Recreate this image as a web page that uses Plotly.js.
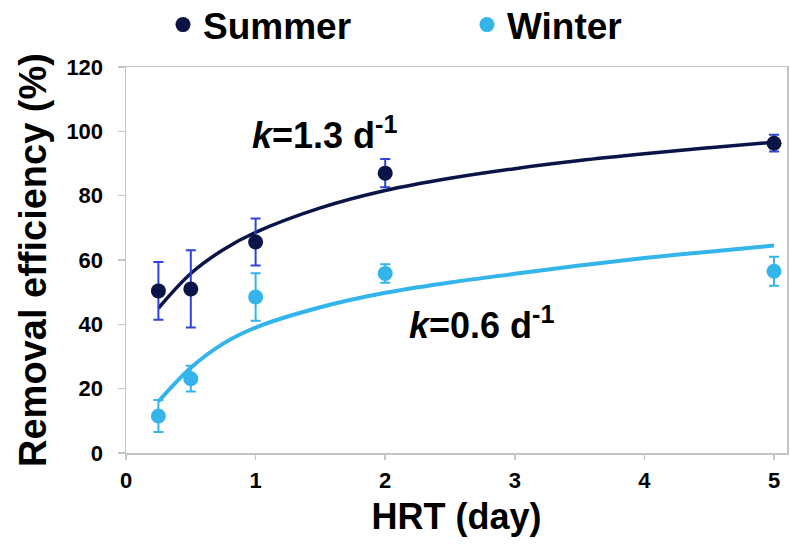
<!DOCTYPE html>
<html>
<head>
<meta charset="utf-8">
<script src="https://cdn.plot.ly/plotly-3.0.1.min.js"></script>
<style>html,body{margin:0;padding:0;background:#fff;}#chart{width:790px;height:545px;}</style>
</head>
<body>
<div id="chart"></div>
<script>
// Measured points (HRT in days, removal efficiency %)
const hrt = [0.25, 0.5, 1, 2, 5];
const summerMean = [50.4, 51.0, 65.6, 87.0, 96.3];
const summerErr = [9.0, 12.0, 7.3, 4.4, 2.6];
const winterMean = [11.5, 23.1, 48.5, 55.8, 56.5];
const winterErr = [5.0, 4.0, 7.4, 2.9, 4.5];

// Fitted curves
const fitHrt = [0.25, 0.5, 0.75, 1, 1.5, 2, 2.5, 3, 3.5, 4, 4.5, 5];
const summerFit = [45.0, 55.8, 63.2, 68.6, 76.2, 81.6, 85.4, 88.4, 90.9, 93.0, 94.9, 96.6];
const winterFit = [16.0, 26.5, 34.0, 39.0, 45.3, 49.8, 53.0, 55.7, 58.3, 60.6, 62.6, 64.5];

const seriesNames = ['Summer', 'Winter'];
const xTicks = [0, 1, 2, 3, 4, 5];
const yTicks = [0, 20, 40, 60, 80, 100, 120];

const navy = '#0B1446';
const sky = '#33B4EB';
const errBlue = '#2E43DD';
const font = 'Arial, "Liberation Sans", sans-serif';

const traces = [
  {x: fitHrt, y: summerFit, mode: 'lines', line: {color: navy, width: 3.5, shape: 'spline', smoothing: 1}, showlegend: false, hoverinfo: 'skip'},
  {x: fitHrt, y: winterFit, mode: 'lines', line: {color: sky, width: 4, shape: 'spline', smoothing: 1}, showlegend: false, hoverinfo: 'skip'},
  {x: hrt, y: summerMean, name: seriesNames[0], mode: 'markers',
   marker: {color: navy, size: 15},
   error_y: {type: 'data', array: summerErr, visible: true, color: errBlue, thickness: 2, width: 5}},
  {x: hrt, y: winterMean, name: seriesNames[1], mode: 'markers',
   marker: {color: sky, size: 15},
   error_y: {type: 'data', array: winterErr, visible: true, color: sky, thickness: 2, width: 5}}
];

const layout = {
  width: 790, height: 545,
  margin: {l: 126, r: 3, t: 67, b: 92},
  paper_bgcolor: '#fff', plot_bgcolor: '#fff',
  font: {family: font, color: '#000'},
  showlegend: true,
  legend: {orientation: 'h', xref: 'container', yref: 'container', x: 0.2063, y: 0.954, xanchor: 'left', yanchor: 'middle',
           font: {size: 37, family: font, weight: 'bold', color: '#000'}, entrywidth: 259, entrywidthmode: 'pixels',
           bgcolor: 'rgba(0,0,0,0)', traceorder: 'normal'},
  xaxis: {range: [0, 5.1], tickvals: xTicks, ticktext: xTicks.map(String), showgrid: false, zeroline: false,
          showline: true, mirror: true, linecolor: '#C4C4C4', linewidth: 1.5,
          ticks: 'outside', ticklen: 5, tickcolor: '#C4C4C4', tickwidth: 1.5,
          tickfont: {size: 22, family: font, weight: 'bold', color: '#000'}, ticklabelstandoff: 2,
          title: {text: 'HRT (day)', font: {size: 36, family: font, weight: 'bold', color: '#000'}, standoff: 12}},
  yaxis: {range: [0, 120], tickvals: yTicks, ticktext: yTicks.map(String), showgrid: false, zeroline: false,
          showline: true, mirror: true, linecolor: '#C4C4C4', linewidth: 1.5,
          ticks: 'outside', ticklen: 7, tickcolor: '#C4C4C4', tickwidth: 1.5,
          tickfont: {size: 22, family: font, weight: 'bold', color: '#000'}, ticklabelstandoff: 10,
          title: {text: 'Removal efficiency (%)', font: {size: 38, family: font, weight: 'bold', color: '#000'}, standoff: 8}},
  annotations: [
    {x: 0.96, y: 99.5, xref: 'x', yref: 'y', xanchor: 'left', yanchor: 'middle', showarrow: false,
     text: '<b><i>k</i>=1.3 d<sup>-1</sup></b>', font: {size: 36, family: font, color: '#000'}},
    {x: 2.17, y: 40.5, xref: 'x', yref: 'y', xanchor: 'left', yanchor: 'middle', showarrow: false,
     text: '<b><i>k</i>=0.6 d<sup>-1</sup></b>', font: {size: 36, family: font, color: '#000'}}
  ]
};

Plotly.newPlot('chart', traces, layout, {displayModeBar: false, staticPlot: true});
</script>
</body>
</html>
